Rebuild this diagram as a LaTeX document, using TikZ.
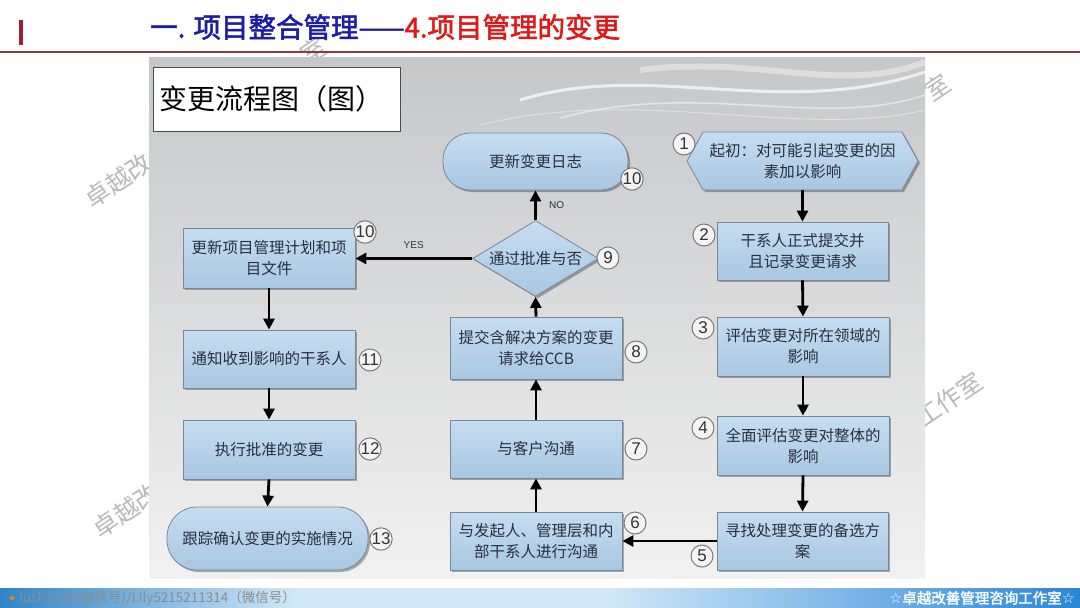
\documentclass[tikz,border=0pt]{standalone}
\usepackage{fontspec}
\setmainfont{Noto Sans CJK SC}
\newfontfamily\cjkbold[FakeBold=2]{Noto Sans CJK SC}
\newfontfamily\numfont{Liberation Sans}
\newfontfamily\symfont{DejaVu Sans}
\usetikzlibrary{shapes.geometric,shapes.symbols,shadows,arrows.meta}
\definecolor{boxtop}{HTML}{C6DDF1}
\definecolor{boxbot}{HTML}{A8C7E2}
\definecolor{boxline}{HTML}{7A8896}
\definecolor{txt}{HTML}{2A2F3F}
\definecolor{titleblue}{HTML}{1C1CA8}
\definecolor{titlered}{HTML}{E01818}
\definecolor{rulecol}{HTML}{8E3A3A}
\definecolor{barcol}{HTML}{A02030}
\definecolor{paneltop}{HTML}{C6C7C9}
\definecolor{panelbot}{HTML}{F1F1F1}
\definecolor{numline}{HTML}{7A7A7A}
\definecolor{numfill}{HTML}{F4F4F4}
\definecolor{bluedark}{HTML}{2F84C8}
\definecolor{bluelight}{HTML}{D4E9F7}
\definecolor{blueright}{HTML}{2A86D6}
\newcommand\bxfont{\fontsize{15.5pt}{21pt}\selectfont}
\newcommand\wmfont{\fontsize{25pt}{25pt}\selectfont}
\begin{document}
\begin{tikzpicture}[x=1pt,y=-1pt,
  bx/.style={draw=boxline,line width=0.8pt,top color=boxtop,bottom color=boxbot,
    drop shadow={shadow xshift=2pt,shadow yshift=-2pt,opacity=0.3,fill=black},
    text=txt,font=\bxfont,align=center,inner sep=0pt},
  rbox/.style={bx,rectangle,minimum width=172pt,minimum height=59pt},
  num/.style={circle,draw=numline,line width=1pt,fill=numfill,minimum size=22pt,
    inner sep=0pt,font=\numfont\fontsize{17pt}{17pt}\selectfont,text=black!80},
  arr/.style={line width=2.8pt,-{Triangle[length=11pt,width=11pt]}},
  wm/.style={text=gray!55,font=\wmfont,rotate=34,inner sep=0pt},
  lbl/.style={font=\numfont\fontsize{10pt}{10pt}\selectfont,text=black!80}
]
\useasboundingbox (0,0) rectangle (1080,608);
\fill[white] (0,0) rectangle (1080,608);
% watermark fragments (the rest is hidden by the panel)
\node[wm,anchor=west] (wm1) at (87,202) {卓越改};
\node[wm] (wm1b) at (313,50) {室};
\node[wm,anchor=west] (wm2) at (95,532) {卓越改};
\node[wm,anchor=east] (wm3) at (948,80) {室};
\node[wm,anchor=east] (wm4) at (980,378) {工作室};
% header
\fill[barcol] (19,20) rectangle (23,45);
\draw[rulecol,line width=1.2pt] (0,52) -- (1080,52);
\node[anchor=west,inner sep=0pt,font=\cjkbold\fontsize{27.5pt}{27.5pt}\selectfont] (title) at (150,27)
  {\textcolor{titleblue}{一. 项目整合管理——}\textcolor{titlered}{4.项目管理的变更}};
% panel
\shade[top color=paneltop,bottom color=panelbot] (149,57) rectangle (925,578);
\draw[white,opacity=0.7,line width=3pt] (520,100) .. controls (650,60) and (780,120) .. (925,72);
\draw[white,opacity=0.5,line width=1.5pt] (560,118) .. controls (700,80) and (820,130) .. (925,95);
\draw[white,opacity=0.4,line width=6pt] (640,70) .. controls (760,55) and (840,95) .. (925,62);
\draw[white,opacity=0.4,line width=1pt] (480,125) .. controls (640,85) and (800,140) .. (925,110);
% panel title
\node[draw=black!70,line width=1pt,fill=white,minimum width=247pt,minimum height=64pt,
  inner sep=0pt] (ptitle) at (276.5,99) {};
\node[anchor=west,inner sep=0pt,font=\fontsize{28pt}{28pt}\selectfont] (ptitletext) at (159,99) {变更流程图（图）};
% nodes
\node[bx,signal,signal to=west and east,signal pointer angle=122,minimum width=231pt,minimum height=58pt] (n1) at (802.5,161) {起初：对可能引起变更的因\\素加以影响};
\node[rbox,minimum width=171pt,minimum height=58pt] (n2) at (802.5,251) {干系人正式提交并\\且记录变更请求};
\node[rbox] (n3) at (803,346.5) {评估变更对所在领域的\\影响};
\node[rbox] (n4) at (803,445.5) {全面评估变更对整体的\\影响};
\node[rbox,minimum width=171pt,minimum height=58pt] (n5) at (802.5,541) {寻找处理变更的备选方\\案};
\node[rbox,minimum height=58pt] (n6) at (536,541) {与发起人、管理层和内\\部干系人进行沟通};
\node[rbox,minimum height=58pt] (n7) at (536,449) {与客户沟通};
\node[rbox,minimum height=62pt] (n8) at (536,348) {提交含解决方案的变更\\请求给CCB};
\node[bx,diamond,aspect=1.65,minimum width=126pt,minimum height=76pt] (n9) at (535.5,258.5) {通过批准与否};
\node[rbox,minimum width=185pt,minimum height=57pt,rounded corners=27pt] (n10a) at (535.5,161.5) {更新变更日志};
\node[rbox,minimum height=60pt] (n10b) at (269,258) {更新项目管理计划和项\\目文件};
\node[rbox,minimum height=58pt] (n11) at (269,359) {通知收到影响的干系人};
\node[rbox] (n12) at (269,449.5) {执行批准的变更};
\node[rbox,minimum width=201pt,minimum height=63pt,rounded corners=30pt] (n13) at (267.5,538.5) {跟踪确认变更的实施情况};
% number circles
\node[num] (c1) at (684,144) {1};
\node[num] (c2) at (704,235) {2};
\node[num] (c3) at (703,328) {3};
\node[num] (c4) at (703,428) {4};
\node[num] (c5) at (702,556) {5};
\node[num] (c6) at (635,523) {6};
\node[num] (c7) at (636,449) {7};
\node[num] (c8) at (636,352) {8};
\node[num] (c9) at (608,258) {9};
\node[num] (c10a) at (632,179) {10};
\node[num] (c10b) at (365,232) {10};
\node[num] (c11) at (370,360) {11};
\node[num] (c12) at (370,449) {12};
\node[num] (c13) at (381,539) {13};
% connectors
\draw[arr] (n1.south) -- (n2.north);
\draw[arr] (n2.south) -- (n3.north);
\draw[arr] (n3.south) -- (n4.north);
\draw[arr] (n4.south) -- (n5.north);
\draw[arr] (n5.west) -- (n6.east);
\draw[arr] (n6.north) -- (n7.south);
\draw[arr] (n7.north) -- (n8.south);
\draw[arr] (n8.north) -- (n9.south);
\draw[arr] (n9.north) -- node[lbl,right=9pt] (lno) {NO} (n10a.south);
\draw[arr] (n9.west) -- node[lbl,above=5pt] (lyes) {YES} (n9.west -| n10b.east);
\draw[arr] (n10b.south) -- (n11.north);
\draw[arr] (n11.south) -- (n12.north);
\draw[arr] (n12.south) -- (n13.north);
% bottom bar
\shade[left color=bluedark,right color=bluelight] (0,588) rectangle (300,608);
\fill[bluelight] (299,588) rectangle (601,608);
\shade[left color=bluelight,right color=blueright] (600,588) rectangle (1080,608);
\node[anchor=west,inner sep=0pt,text=orange,font=\symfont\fontsize{9pt}{9pt}\selectfont] (star) at (8,598.5) {★};
\node[anchor=west,inner sep=0pt,text=black!45,font=\fontsize{13.5pt}{13.5pt}\selectfont] (lefttext) at (19,598) {lushang5(微信号)/Lily5215211314（微信号）};
\node[anchor=east,inner sep=0pt,text=white,font=\cjkbold\fontsize{14.5pt}{14.5pt}\selectfont] (righttext) at (1075,598) {{\symfont ☆}卓越改善管理咨询工作室{\symfont ☆}};
\end{tikzpicture}
\end{document}
